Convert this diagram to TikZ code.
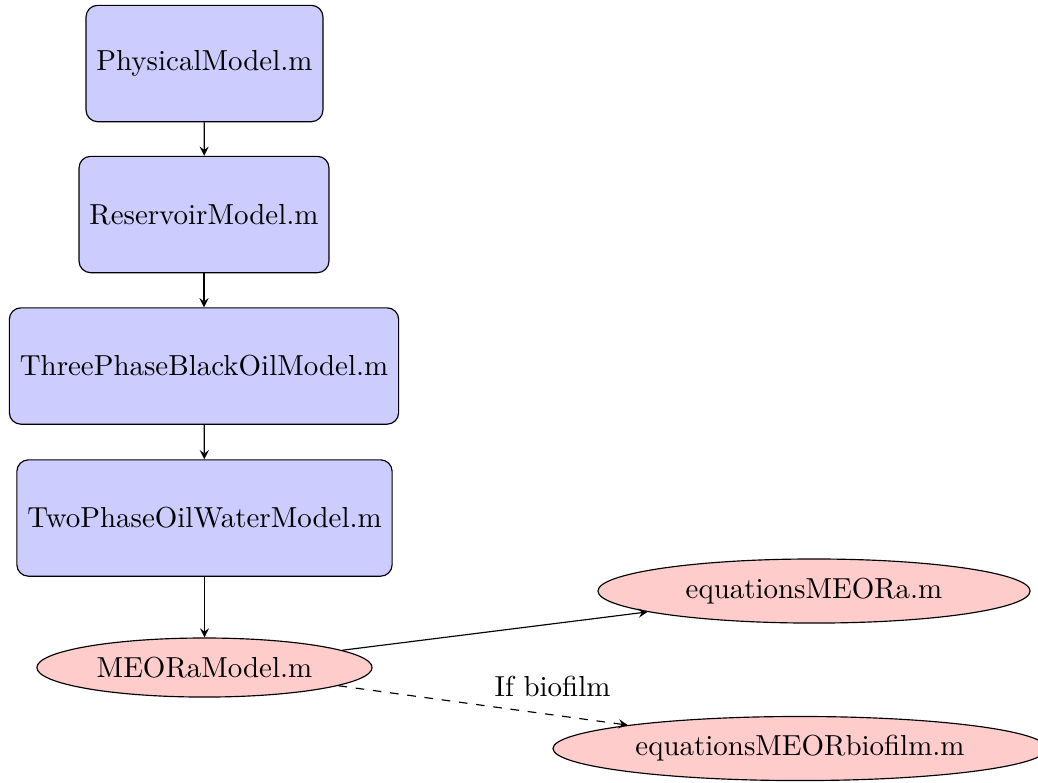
\documentclass[tikz,border=0pt]{standalone}
\usetikzlibrary{shapes.geometric}
\definecolor{boxblue}{RGB}{204,204,255}
\definecolor{ovalpink}{RGB}{255,204,204}
\begin{document}
\begin{tikzpicture}[x=0.3455pt,y=-0.3455pt,>=stealth,
  classbox/.style={draw,rounded corners=4pt,fill=boxblue,minimum height=40.2pt,inner xsep=3.6pt},
  funcoval/.style={draw,ellipse,fill=ovalpink,minimum height=20.4pt},
  link/.style={->,thin}]
\clip (0,0) rectangle (1038,782);
\node[classbox] (phys) at (204.5,63.5) {PhysicalModel.m};
\node[classbox] (res) at (204,214.5) {ReservoirModel.m};
\node[classbox] (three) at (204,366) {ThreePhaseBlackOilModel.m};
\node[classbox] (two) at (204.5,518) {TwoPhaseOilWaterModel.m};
\node[funcoval,minimum width=115.8pt] (meor) at (204.5,667.5) {MEORaModel.m};
\node[funcoval,minimum width=149.3pt] (eqa) at (814,591) {equationsMEORa.m};
\node[funcoval,minimum width=170.7pt] (eqb) at (800,748.5) {equationsMEORbiofilm.m};
\draw[link] (phys) -- (res);
\draw[link] (res) -- (three);
\draw[link] (three) -- (two);
\draw[link] (two) -- (meor);
\draw[link] (meor) -- (eqa);
\draw[link,dashed] (meor) -- node[above=2.6pt,pos=0.74] (lbl) {If biofilm} (eqb);
\end{tikzpicture}
\end{document}
